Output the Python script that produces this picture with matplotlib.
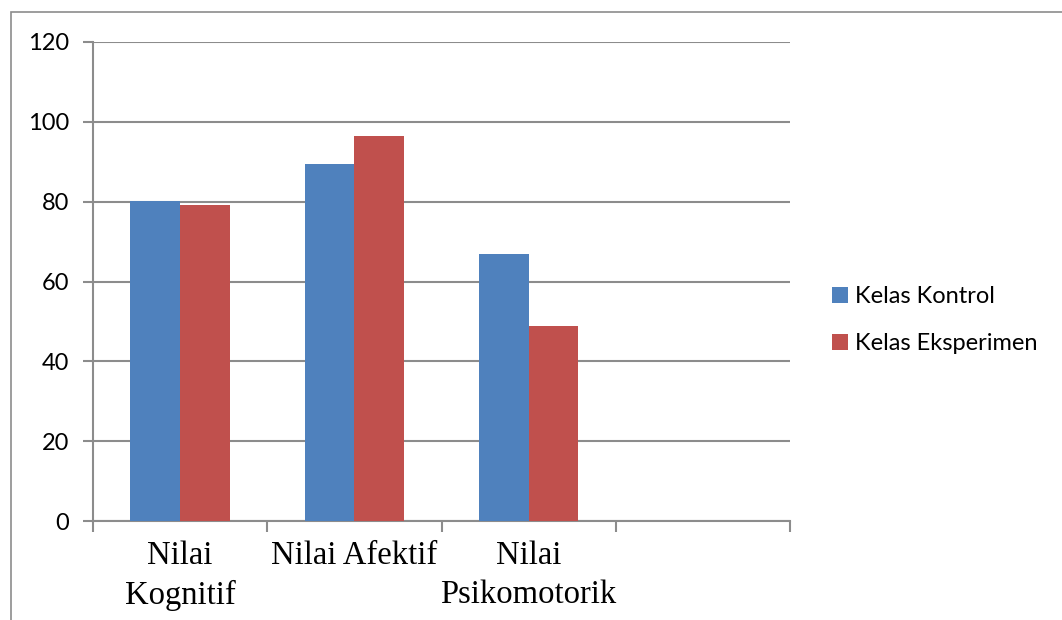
import matplotlib
matplotlib.use("Agg")
import matplotlib.pyplot as plt
from matplotlib.patches import Rectangle
import numpy as np

categories = ["Nilai\nKognitif", "Nilai Afektif", "Nilai\nPsikomotorik"]
kontrol = [80.2, 89.4, 67.0]
eksperimen = [79.1, 96.4, 48.9]
series_names = ["Kelas Kontrol", "Kelas Eksperimen"]
colors = ["#4F81BD", "#C0504D"]
yticks = [0, 20, 40, 60, 80, 100, 120]
n_slots = 4

W, H = 1062, 620
fig = plt.figure(figsize=(W / 100, H / 100), dpi=100)
fig.patch.set_facecolor("white")

# outer frame
fig.patches.append(Rectangle((11 / W, -0.1), 1.2, 1 - 11.5 / H + 0.1,
                             transform=fig.transFigure, fill=False,
                             edgecolor="#8c8c8c", linewidth=1.2))

ax = fig.add_axes([93 / W, 1 - 521 / H, (790 - 93) / W, (521 - 42) / H])

w = 1 / 3.5
centers = np.arange(len(categories)) + 0.5
ax.bar(centers - w / 2, kontrol, width=w, color=colors[0], label=series_names[0], zorder=3)
ax.bar(centers + w / 2, eksperimen, width=w, color=colors[1], label=series_names[1], zorder=3)

ax.set_xlim(0, n_slots)
ax.set_ylim(0, 120)
ax.set_yticks(yticks)
ax.yaxis.grid(True, color="#8c8c8c", linewidth=1.5, zorder=0)
ax.set_axisbelow(True)

for s in ["top", "right"]:
    ax.spines[s].set_visible(False)
for s in ["left", "bottom"]:
    ax.spines[s].set_color("#8c8c8c")
    ax.spines[s].set_linewidth(1.5)

ax.set_xticks(np.arange(n_slots + 1))
ax.set_xticklabels([])
ax.set_xticks(centers, minor=True)
ax.set_xticklabels(categories, minor=True)
ax.tick_params(axis="x", which="major", length=8, width=1.5, color="#8c8c8c", direction="out")
ax.tick_params(axis="x", which="minor", length=0, pad=14, labelsize=23.5)
ax.tick_params(axis="y", length=7, width=1.5, color="#8c8c8c", direction="out", pad=10,
               labelsize=17)
for lab in ax.get_xticklabels(minor=True):
    lab.set_fontfamily("Liberation Serif")
    lab.set_linespacing(1.37)
for lab in ax.get_yticklabels():
    lab.set_fontfamily("Lato")

leg = fig.legend(loc="center left", bbox_to_anchor=(823 / W, 1 - 320 / H),
                 frameon=False, prop={"family": "Lato", "size": 17},
                 handlelength=0.65, handleheight=0.65, handletextpad=0.3,
                 labelspacing=1.1, borderaxespad=0)

fig.savefig("out.png", dpi=100, facecolor="white")
